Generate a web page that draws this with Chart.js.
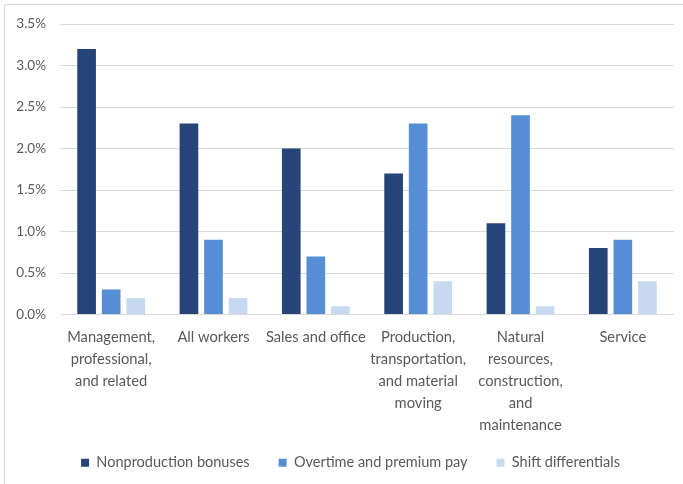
<!DOCTYPE html>
<html><head><meta charset="utf-8">
<script src="https://cdn.jsdelivr.net/npm/chart.js@4"></script>
<style>
html,body{margin:0;padding:0;background:#fff;}
#wrap{position:absolute;left:4px;top:4px;width:679px;height:480px;border-left:1px solid #d9d9d9;border-top:1px solid #d9d9d9;box-sizing:border-box;}
canvas{display:block;}
</style></head>
<body>
<div id="wrap"><canvas id="c" width="678" height="479"></canvas></div>
<script>
const categories = [
  ["Management,", "professional,", "and related"],
  "All workers",
  "Sales and office",
  ["Production,", "transportation,", "and material", "moving"],
  ["Natural", "resources,", "construction,", "and", "maintenance"],
  "Service"
];
const nonproductionBonuses = [3.2, 2.3, 2.0, 1.7, 1.1, 0.8];
const overtimePremiumPay = [0.3, 0.9, 0.7, 2.3, 2.4, 0.9];
const shiftDifferentials = [0.2, 0.2, 0.1, 0.4, 0.1, 0.4];
const seriesNames = ["Nonproduction bonuses", "Overtime and premium pay", "Shift differentials"];
const colors = ["#264478", "#558ED5", "#C6D9F1"];

const fontFam = "Lato, 'Open Sans', sans-serif";
const txt = "#595959";
const noClip = () => undefined;

new Chart(document.getElementById('c'), {
  type: 'bar',
  data: {
    labels: categories,
    datasets: [
      {label: seriesNames[0], data: nonproductionBonuses, backgroundColor: colors[0]},
      {label: seriesNames[1], data: overtimePremiumPay, backgroundColor: colors[1]},
      {label: seriesNames[2], data: shiftDifferentials, backgroundColor: colors[2]}
    ]
  },
  options: {
    responsive: false,
    animation: false,
    devicePixelRatio: 1,
    datasets: {bar: {categoryPercentage: 0.72, barPercentage: 0.76}},
    layout: {padding: {top: 19, right: 9, left: 22, bottom: 4}},
    plugins: {
      tooltip: {enabled: false},
      legend: {
        position: 'bottom',
        labels: {
          boxWidth: 8, boxHeight: 8, padding: 29,
          color: txt,
          font: {family: fontFam, size: 14.5}
        }
      }
    },
    scales: {
      x: {
        afterFit: (s) => { s.height = 112; s._computeLabelArea = noClip; },
        grid: {display: false, drawTicks: false},
        border: {display: false},
        ticks: {color: txt, font: {family: fontFam, size: 14.7, lineHeight: 1.5}, padding: 12, maxRotation: 0, autoSkip: false}
      },
      y: {
        min: 0, max: 3.5,
        afterFit: (s) => { s.width = 33; s.paddingTop = 0; s.paddingBottom = 0; s._computeLabelArea = noClip; },
        grid: {color: "#d9d9d9", lineWidth: 1, drawTicks: false},
        border: {display: false},
        ticks: {
          stepSize: 0.5, color: txt, padding: 14,
          font: {family: fontFam, size: 13.5},
          callback: (v) => v.toFixed(1) + "%"
        }
      }
    }
  }
});
</script>
</body></html>
